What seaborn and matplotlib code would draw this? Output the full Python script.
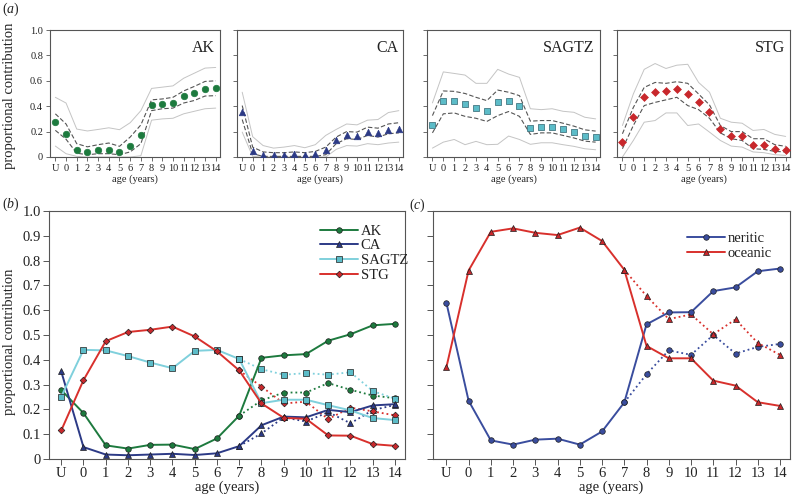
import seaborn as sns
import matplotlib.pyplot as plt
import numpy as np
import pandas as pd

# age classes (U = unknown)
ages = ['U', '0', '1', '2', '3', '4', '5', '6', '7', '8', '9', '10', '11', '12', '13', '14']

# (b) mean proportional contribution per rookery
ak = [0.278, 0.185, 0.055, 0.042, 0.057, 0.058, 0.040, 0.083, 0.175, 0.408, 0.418, 0.423, 0.477, 0.503, 0.539, 0.545]
ca = [0.353, 0.048, 0.018, 0.015, 0.018, 0.021, 0.016, 0.023, 0.052, 0.136, 0.171, 0.168, 0.198, 0.189, 0.216, 0.221]
sagtz = [0.251, 0.440, 0.438, 0.415, 0.389, 0.366, 0.436, 0.440, 0.403, 0.225, 0.239, 0.239, 0.217, 0.196, 0.165, 0.157]
stg = [0.115, 0.318, 0.475, 0.512, 0.521, 0.534, 0.494, 0.434, 0.357, 0.224, 0.166, 0.162, 0.095, 0.094, 0.060, 0.053]

# alternative (dotted) estimates for ages 7-14
ak_alt = [0.175, 0.236, 0.268, 0.268, 0.306, 0.279, 0.256, 0.245]
ca_alt = [0.052, 0.103, 0.168, 0.151, 0.189, 0.144, 0.197, 0.218]
sagtz_alt = [0.403, 0.362, 0.340, 0.346, 0.340, 0.350, 0.274, 0.243]
stg_alt = [0.357, 0.292, 0.224, 0.231, 0.161, 0.207, 0.192, 0.176]

# (c) neritic vs oceanic
neritic = [0.631, 0.235, 0.075, 0.058, 0.078, 0.082, 0.058, 0.111, 0.228, 0.543, 0.591, 0.592, 0.677, 0.692, 0.757, 0.768]
oceanic = [0.369, 0.760, 0.916, 0.930, 0.912, 0.903, 0.933, 0.879, 0.763, 0.456, 0.406, 0.406, 0.316, 0.296, 0.229, 0.214]
neritic_alt = [0.228, 0.342, 0.438, 0.420, 0.500, 0.425, 0.452, 0.464]
oceanic_alt = [0.763, 0.657, 0.564, 0.583, 0.503, 0.563, 0.468, 0.420]

# (a) credible intervals: outer low, inner low, inner high, outer high
ak_lo95 = [0.086, 0.026, 0.005, 0.0, 0.0, 0.0, 0.0, 0.0, 0.01, 0.29, 0.30, 0.305, 0.34, 0.36, 0.38, 0.385]
ak_lo50 = [0.21, 0.14, 0.03, 0.018, 0.026, 0.026, 0.018, 0.04, 0.105, 0.365, 0.38, 0.385, 0.425, 0.445, 0.48, 0.483]
ak_hi50 = [0.34, 0.26, 0.105, 0.08, 0.097, 0.11, 0.084, 0.157, 0.253, 0.45, 0.457, 0.47, 0.52, 0.556, 0.595, 0.60]
ak_hi95 = [0.47, 0.425, 0.22, 0.205, 0.217, 0.23, 0.215, 0.27, 0.365, 0.54, 0.55, 0.56, 0.62, 0.66, 0.70, 0.705]

ca_lo95 = [0.196, 0.005, 0.0, 0.0, 0.0, 0.0, 0.0, 0.0, 0.0, 0.06, 0.09, 0.086, 0.105, 0.097, 0.11, 0.117]
ca_lo50 = [0.295, 0.026, 0.005, 0.005, 0.005, 0.005, 0.005, 0.005, 0.018, 0.105, 0.144, 0.138, 0.17, 0.157, 0.183, 0.19]
ca_hi50 = [0.405, 0.078, 0.04, 0.034, 0.034, 0.04, 0.034, 0.044, 0.078, 0.157, 0.20, 0.196, 0.235, 0.227, 0.26, 0.27]
ca_hi95 = [0.51, 0.16, 0.09, 0.07, 0.078, 0.09, 0.073, 0.097, 0.17, 0.217, 0.26, 0.253, 0.29, 0.295, 0.35, 0.365]

sagtz_lo95 = [0.07, 0.117, 0.138, 0.097, 0.123, 0.097, 0.10, 0.165, 0.138, 0.10, 0.112, 0.112, 0.097, 0.084, 0.065, 0.057]
sagtz_lo50 = [0.19, 0.34, 0.347, 0.32, 0.305, 0.28, 0.326, 0.358, 0.32, 0.178, 0.19, 0.19, 0.17, 0.15, 0.125, 0.117]
sagtz_hi50 = [0.326, 0.52, 0.517, 0.50, 0.47, 0.444, 0.527, 0.51, 0.483, 0.282, 0.287, 0.287, 0.266, 0.243, 0.214, 0.204]
sagtz_hi95 = [0.426, 0.67, 0.658, 0.645, 0.58, 0.58, 0.69, 0.653, 0.627, 0.38, 0.373, 0.38, 0.36, 0.352, 0.313, 0.30]

stg_lo95 = [0.0, 0.13, 0.274, 0.287, 0.347, 0.347, 0.248, 0.26, 0.196, 0.13, 0.086, 0.078, 0.04, 0.034, 0.018, 0.013]
stg_lo50 = [0.065, 0.248, 0.405, 0.43, 0.45, 0.47, 0.405, 0.373, 0.305, 0.19, 0.144, 0.13, 0.065, 0.06, 0.044, 0.04]
stg_hi50 = [0.183, 0.39, 0.548, 0.587, 0.58, 0.593, 0.58, 0.496, 0.41, 0.248, 0.20, 0.20, 0.144, 0.144, 0.097, 0.084]
stg_hi95 = [0.248, 0.496, 0.69, 0.736, 0.697, 0.723, 0.73, 0.587, 0.51, 0.305, 0.274, 0.266, 0.209, 0.217, 0.178, 0.162]

sns.set_style('ticks')
plt.rcParams['font.family'] = ['Liberation Serif', 'DejaVu Serif']
plt.rcParams['mathtext.fontset'] = 'custom'
plt.rcParams['mathtext.rm'] = 'Liberation Serif'
plt.rcParams['mathtext.it'] = 'Liberation Serif:italic'
plt.rcParams['axes.edgecolor'] = '#555555'
plt.rcParams['axes.linewidth'] = 0.8
plt.rcParams['xtick.color'] = '#555555'
plt.rcParams['ytick.color'] = '#555555'
plt.rcParams['xtick.labelcolor'] = '#222222'
plt.rcParams['ytick.labelcolor'] = '#222222'
plt.rcParams['text.color'] = '#222222'
plt.rcParams['axes.labelcolor'] = '#222222'

pos = np.arange(len(ages))
pos_alt = pos[8:]

W, H = 792, 499
fig = plt.figure(figsize=(W / 100, H / 100), dpi=100)


def px_axes(x0, y0, x1, y1):
    return fig.add_axes([x0 / W, 1 - y1 / H, (x1 - x0) / W, (y1 - y0) / H])


green = '#1d7a3e'
navy = '#2c3a86'
cyan = '#7fd0dc'
cyan_face = '#5cbcc8'
red = '#d8302c'
edge = '#1e1e1e'

# ---------------- (a) ----------------
top = [
    ('AK', ak, ak_lo95, ak_lo50, ak_hi50, ak_hi95, green, green, 'o', (50, 220)),
    ('CA', ca, ca_lo95, ca_lo50, ca_hi50, ca_hi95, navy, navy, '^', (237, 403)),
    ('SAGTZ', sagtz, sagtz_lo95, sagtz_lo50, sagtz_hi50, sagtz_hi95, cyan_face, '#2f6470', 's', (427, 600)),
    ('STG', stg, stg_lo95, stg_lo50, stg_hi50, stg_hi95, '#c8282c', '#c8282c', 'D', (617, 790)),
]
for i, (name, mean, lo95, lo50, hi50, hi95, fc, ec, mk, (x0, x1)) in enumerate(top):
    ax = px_axes(x0, 30, x1, 157)
    for band in (lo95, hi95):
        sns.lineplot(x=pos, y=band, color='#c4c4c4', linewidth=0.7, ax=ax)
    for band in (lo50, hi50):
        sns.lineplot(x=pos, y=band, color='#555555', linewidth=0.8, linestyle=(0, (4, 2)), ax=ax)
    sns.scatterplot(x=pos, y=mean, color=fc, edgecolor=ec, linewidth=0.5, marker=mk,
                    s=22 if mk != 'D' else 16, zorder=5, ax=ax)
    ax.set_xlim(-0.5, 15.4)
    ax.set_ylim(0, 1.0)
    ax.set_xticks(pos)
    ax.set_xticklabels(ages, fontsize=7.5)
    ax.set_yticks([0, 0.2, 0.4, 0.6, 0.8, 1.0])
    if i == 0:
        ax.set_yticklabels(['0', '0.2', '0.4', '0.6', '0.8', '1.0'], fontsize=7.5)
    else:
        ax.set_yticklabels([])
    ax.tick_params(length=3, width=0.6, pad=2)
    ax.set_xlabel('age (years)', fontsize=7.5, labelpad=1)
    ax.text(0.97, 0.86, name, transform=ax.transAxes, ha='right', va='center', fontsize=11.5)

fig.text(10 / W, 1 - 96 / H, 'proportional contribution', rotation=90, ha='center', va='center', fontsize=10.5)
fig.text(2 / W, 1 - 9 / H, r'$(\mathit{a})$', ha='left', va='center', fontsize=10)

# ---------------- (b) ----------------
axb = px_axes(49, 211, 405, 459)
series = [
    ('AK', ak, ak_alt, green, green, 'o'),
    ('CA', ca, ca_alt, navy, navy, '^'),
    ('SAGTZ', sagtz, sagtz_alt, cyan, cyan_face, 's'),
    ('STG', stg, stg_alt, red, '#c8282c', 'D'),
]
handles = []
for name, vals, alt, lc, fc, mk in series:
    sns.lineplot(x=pos_alt, y=alt, color=lc, linewidth=1.3, linestyle=':', marker=mk,
                 markersize=4.0 if mk != 'D' else 3.4, markerfacecolor=fc,
                 markeredgecolor=edge, markeredgewidth=0.5, ax=axb)
for name, vals, alt, lc, fc, mk in series:
    sns.lineplot(x=pos, y=vals, color=lc, linewidth=1.4, marker=mk,
                 markersize=4.0 if mk != 'D' else 3.4, markerfacecolor=fc,
                 markeredgecolor=edge, markeredgewidth=0.5, ax=axb, label=name)
    handles.append(axb.lines[-1])

axb.set_xlim(-0.55, 15.45)
axb.set_ylim(0, 1.0)
axb.set_xticks(pos)
axb.set_xticklabels(ages, fontsize=10.5)
yt = [0, 0.1, 0.2, 0.3, 0.4, 0.5, 0.6, 0.7, 0.8, 0.9, 1.0]
axb.set_yticks(yt)
axb.set_yticklabels(['0'] + [f'{v:.1f}' for v in yt[1:]], fontsize=10.5)
axb.tick_params(length=4, width=0.7, pad=2)
axb.set_xlabel('age (years)', fontsize=10.5, labelpad=0)
axb.set_ylabel('')
axb.legend(handles=handles, labels=[s[0] for s in series], loc='upper left',
           bbox_to_anchor=(0.742, 0.975), frameon=False, fontsize=10.5, borderpad=0,
           handlelength=2.6, handletextpad=0.15, labelspacing=0.1)
fig.text(10 / W, 1 - 342 / H, 'proportional contribution', rotation=90, ha='center', va='center', fontsize=10.5)
fig.text(2 / W, 1 - 204 / H, r'$(\mathit{b})$', ha='left', va='center', fontsize=10)

# ---------------- (c) ----------------
axc = px_axes(433, 211, 790, 459)
blue = '#3a4d9e'
habitat = [
    ('neritic', neritic, neritic_alt, blue, blue, 'o'),
    ('oceanic', oceanic, oceanic_alt, red, '#c8282c', '^'),
]
handles = []
for name, vals, alt, lc, fc, mk in habitat:
    sns.lineplot(x=pos_alt, y=alt, color=lc, linewidth=1.3, linestyle=':', marker=mk,
                 markersize=4.0, markerfacecolor=fc, markeredgecolor=edge, markeredgewidth=0.5, ax=axc)
for name, vals, alt, lc, fc, mk in habitat:
    sns.lineplot(x=pos, y=vals, color=lc, linewidth=1.4, marker=mk,
                 markersize=4.0, markerfacecolor=fc, markeredgecolor=edge, markeredgewidth=0.5,
                 ax=axc, label=name)
    handles.append(axc.lines[-1])

axc.set_xlim(-0.6, 15.45)
axc.set_ylim(0, 1.0)
axc.set_xticks(pos)
axc.set_xticklabels(ages, fontsize=10.5)
axc.set_yticks(yt)
axc.set_yticklabels([])
axc.tick_params(length=4, width=0.7, pad=2)
axc.set_xlabel('age (years)', fontsize=10.5, labelpad=0)
axc.set_ylabel('')
axc.legend(handles=handles, labels=[h[0] for h in habitat], loc='upper left',
           bbox_to_anchor=(0.692, 0.945), frameon=False, fontsize=10.5, borderpad=0,
           handlelength=2.6, handletextpad=0.15, labelspacing=0.1)
fig.text(409 / W, 1 - 205 / H, r'$(\mathit{c})$', ha='left', va='center', fontsize=10)

fig.savefig('out.png', dpi=100)
